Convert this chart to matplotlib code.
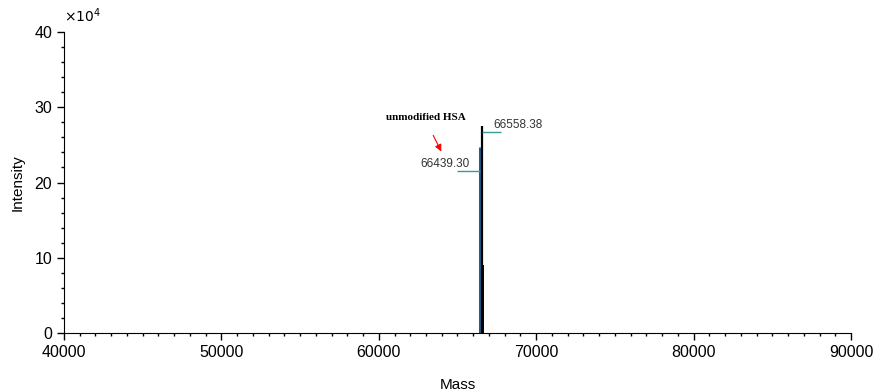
import numpy as np
import matplotlib.pyplot as plt
from matplotlib.ticker import MultipleLocator

plt.rcParams['font.family'] = ['Liberation Sans', 'DejaVu Sans']

# peak data (mass in Da, intensity in units of 1e4)
peak_mass = [66439.30, 66558.38, 66600.0]
peak_int = [24.7, 27.5, 9.0]
peak_color = ['#1f5f8f', 'black', 'black']
peak_width = [2.2, 1.6, 1.4]

# labelled peaks: label text, mass, level of the teal marker line
label_text = ['66439.30', '66558.38']
label_mass = [66439.30, 66558.38]
label_level = [21.5, 26.7]

fig = plt.figure(figsize=(8.75, 3.91), dpi=100)
ax = fig.add_axes([0.0731, 0.1483, 0.8995, 0.7697])

for m, h, c, w in zip(peak_mass, peak_int, peak_color, peak_width):
    ax.vlines(m, 0, h, color=c, linewidth=w)

# teal marker lines and labels
ax.hlines(label_level[0], label_mass[0] - 1450, label_mass[0] - 30, color='#3a9a9a', linewidth=1)
ax.text(label_mass[0] - 700, label_level[0] + 0.2, label_text[0], ha='right', va='bottom', fontsize=8.5, color='#333333')
ax.hlines(label_level[1], label_mass[1] + 30, label_mass[1] + 1200, color='#3a9a9a', linewidth=1)
ax.text(label_mass[1] + 750, label_level[1] + 0.2, label_text[1], ha='left', va='bottom', fontsize=8.5, color='#333333')

ax.text(63000, 28.6, 'unmodified HSA', family='Liberation Serif', fontweight='bold', fontsize=8, ha='center', va='center')
ax.annotate('', xy=(64050, 23.8), xytext=(63380, 26.6),
            arrowprops=dict(arrowstyle='-|>', color='red', lw=0.8, mutation_scale=10))

ax.set_xlim(40000, 90000)
ax.set_ylim(0, 40)
ax.xaxis.set_major_locator(MultipleLocator(10000))
ax.xaxis.set_minor_locator(MultipleLocator(1000))
ax.yaxis.set_major_locator(MultipleLocator(10))
ax.yaxis.set_minor_locator(MultipleLocator(2))
ax.tick_params(which='major', length=5, width=1, labelsize=11.5)
ax.tick_params(which='minor', length=2.5, width=1)
ax.spines['top'].set_visible(False)
ax.spines['right'].set_visible(False)
ax.set_xlabel('Mass', fontsize=11, labelpad=13)
ax.set_ylabel('Intensity', fontsize=11, labelpad=7)
ax.text(0.0, 1.025, r'$\times10^4$', transform=ax.transAxes, fontsize=10, ha='left', va='bottom')

fig.savefig('out.png', dpi=100)
